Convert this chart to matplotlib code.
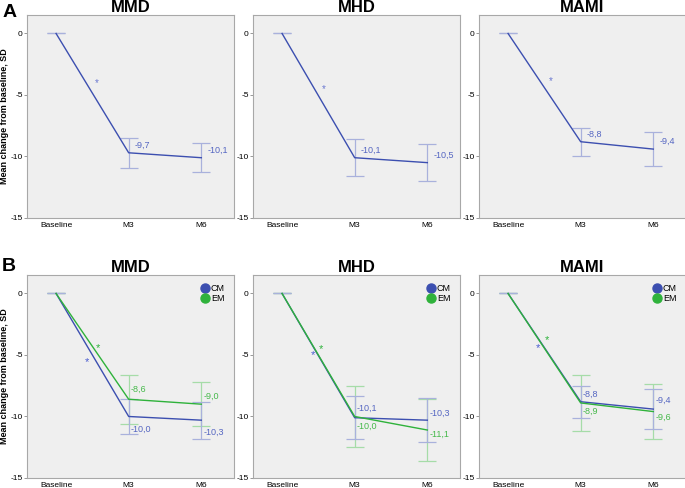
import matplotlib
matplotlib.use('Agg')
import matplotlib.pyplot as plt
from matplotlib.lines import Line2D

plt.rcParams['font.family'] = ['Liberation Sans', 'DejaVu Sans']

timepoints = ['Baseline', 'M3', 'M6']
outcomes = ['MMD', 'MHD', 'MAMI']

# row A: all patients
all_mean = [[0, -9.7, -10.1], [0, -10.1, -10.5], [0, -8.8, -9.4]]
all_err = [[0, 1.2, 1.2], [0, 1.5, 1.5], [0, 1.15, 1.35]]

# row B: chronic vs episodic migraine
cm_mean = [[0, -10.0, -10.3], [0, -10.1, -10.3], [0, -8.8, -9.4]]
cm_err = [[0, 1.4, 1.5], [0, 1.75, 1.8], [0, 1.3, 1.6]]
em_mean = [[0, -8.6, -9.0], [0, -10.0, -11.1], [0, -8.9, -9.6]]
em_err = [[0, 2.0, 1.8], [0, 2.5, 2.5], [0, 2.3, 2.25]]

blue = '#3c4fb0'
green = '#2fb23b'
blue_err = '#a9b1dc'
green_err = '#a6dca8'
blue_txt = '#5566c2'
green_txt = '#45b94a'
bg = '#efefef'

fig = plt.figure(figsize=(6.85, 4.88), dpi=100)

lefts = [27 / 685, 253 / 685, 479 / 685]
width = 207 / 685
height = 203 / 488
bottoms = [1 - 218 / 488, 1 - 478 / 488]

# label offsets in points (dy) for row B, per panel
cm_dy = [[0, -9, -9], [0, 7, 5], [0, 5.5, 6]]
em_dy = [[0, 7, 6], [0, -7, -3], [0, -6, -4.2]]
# asterisk positions
star_a = [(0.56, -4.05), (0.57, -4.5), (0.59, -3.9)]
star_cm = [(0.43, -5.6), (0.42, -5.0), (0.41, -4.4)]
star_em = [(0.58, -4.4), (0.54, -4.5), (0.53, -3.8)]


def style_axes(ax, title):
    ax.set_facecolor(bg)
    for s in ax.spines.values():
        s.set_color('#a8a8a8')
        s.set_linewidth(0.8)
    ax.set_xlim(-0.4, 2.45)
    ax.set_ylim(-15, 1.5)
    ax.set_yticks([0, -5, -10, -15])
    ax.set_yticklabels(['0', '-5', '-10', '-15'])
    ax.set_xticks(range(len(timepoints)))
    ax.set_xticklabels(timepoints)
    ax.tick_params(axis='y', labelsize=6, length=2, width=0.6, color='#888888', pad=1)
    ax.tick_params(axis='x', labelsize=6, length=0, pad=3)
    ax.set_title(title, fontsize=12, fontweight='bold', pad=2)


def add_ylabel(ax):
    ax.set_ylabel('Mean change from baseline, SD', fontsize=6.5, fontweight='bold')
    ax.yaxis.set_label_coords(-0.085, 0.5)


x = list(range(len(timepoints)))

for i, name in enumerate(outcomes):
    # row A
    ax = fig.add_axes([lefts[i], bottoms[0], width, height])
    style_axes(ax, name)
    ax.errorbar(x, all_mean[i], yerr=all_err[i], fmt='none', ecolor=blue_err,
                elinewidth=0.9, capsize=6.5, capthick=0.9, zorder=2)
    ax.plot(x, all_mean[i], color=blue, lw=1, zorder=3)
    for j in (1, 2):
        ax.annotate(f'{all_mean[i][j]:.1f}'.replace('.', ','), (x[j], all_mean[i][j]),
                    xytext=(4.3, 5.5), textcoords='offset points', fontsize=6.5,
                    color=blue_txt, va='center', ha='left')
    ax.text(star_a[i][0], star_a[i][1], '*', color='#6a78d0', fontsize=7,
            ha='center', va='center')
    if i == 0:
        add_ylabel(ax)

    # row B
    ax = fig.add_axes([lefts[i], bottoms[1], width, height])
    style_axes(ax, name)
    ax.errorbar(x, em_mean[i], yerr=em_err[i], fmt='none', ecolor=green_err,
                elinewidth=0.9, capsize=6.5, capthick=0.9, zorder=2)
    ax.errorbar(x, cm_mean[i], yerr=cm_err[i], fmt='none', ecolor=blue_err,
                elinewidth=0.9, capsize=6.5, capthick=0.9, zorder=2)
    ax.plot(x, cm_mean[i], color=blue, lw=1, zorder=3)
    ax.plot(x, em_mean[i], color=green, lw=1, zorder=4)
    for j in (1, 2):
        ax.annotate(f'{cm_mean[i][j]:.1f}'.replace('.', ','), (x[j], cm_mean[i][j]),
                    xytext=(1.5, cm_dy[i][j]), textcoords='offset points', fontsize=6.5,
                    color=blue_txt, va='center', ha='left')
        ax.annotate(f'{em_mean[i][j]:.1f}'.replace('.', ','), (x[j], em_mean[i][j]),
                    xytext=(1.5, em_dy[i][j]), textcoords='offset points', fontsize=6.5,
                    color=green_txt, va='center', ha='left')
    ax.text(star_cm[i][0], star_cm[i][1], '*', color='#4a5cd0', fontsize=8,
            ha='center', va='center')
    ax.text(star_em[i][0], star_em[i][1], '*', color=green, fontsize=8,
            ha='center', va='center')
    handles = [Line2D([], [], marker='o', ls='', color=blue, markersize=6.5),
               Line2D([], [], marker='o', ls='', color=green, markersize=6.5)]
    ax.legend(handles, ['CM', 'EM'], loc='upper right', frameon=False, fontsize=6.5,
              handletextpad=0.1, labelspacing=0.1, borderaxespad=0.6, handlelength=1.2)
    if i == 0:
        add_ylabel(ax)

fig.text(0.003, 1 - 4 / 488, 'A', fontsize=14, fontweight='bold', va='top', ha='left')
fig.text(0.003, 1 - 258 / 488, 'B', fontsize=14, fontweight='bold', va='top', ha='left')

fig.savefig('out.png', dpi=100)
